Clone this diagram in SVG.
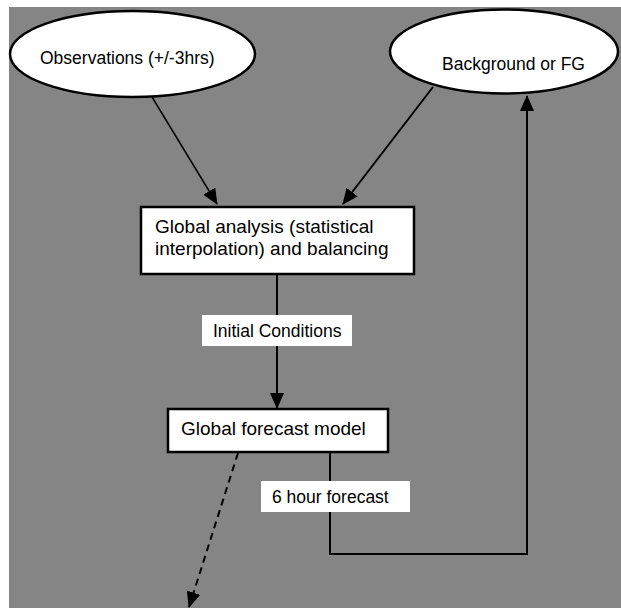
<svg xmlns="http://www.w3.org/2000/svg" width="621" height="608" viewBox="0 0 621 608">
<defs>
<style>
.node{fill:#fff;stroke:#000;stroke-width:2.5}
.lbl{fill:#fff;stroke:none}
.t{font-family:"Liberation Sans",Arial,sans-serif;fill:#000}
.c{fill:none;stroke:#000;stroke-width:2}
</style>
<marker id="ah" markerUnits="userSpaceOnUse" markerWidth="16" markerHeight="14" viewBox="0 0 16 14" refX="15" refY="7" orient="auto">
<path d="M0,0 L16,7 L0,14 z" fill="#000"/>
</marker>
</defs>
<rect x="0" y="0" width="621" height="608" fill="#fff"/>
<rect x="9" y="7" width="612" height="601" fill="#858585"/>
<g id="connectors">
<line class="c" x1="152" y1="97" x2="217" y2="204" style="stroke-width:1.5" marker-end="url(#ah)"/>
<line class="c" x1="433" y1="87" x2="343" y2="204" marker-end="url(#ah)"/>
<line class="c" x1="277" y1="274" x2="277" y2="408" marker-end="url(#ah)"/>
<polyline class="c" points="330,452 330,554 527,554 527,96" marker-end="url(#ah)"/>
<line class="c" x1="238" y1="453" x2="189" y2="607" stroke-dasharray="7,5" marker-end="url(#ah)"/>
</g>
<g id="obs">
<ellipse class="node" cx="132.5" cy="54" rx="122.5" ry="43"/>
<text class="t" x="40" y="64" font-size="17.5">Observations (+/-3hrs)</text>
</g>
<g id="bg">
<ellipse class="node" cx="504" cy="51.5" rx="114" ry="42"/>
<text class="t" x="442" y="70" font-size="17.5">Background or FG</text>
</g>
<g id="analysis">
<rect class="node" x="141" y="207" width="273" height="67"/>
<text class="t" x="155" y="233" font-size="19">Global analysis (statistical</text>
<text class="t" x="155" y="255" font-size="19">interpolation) and balancing</text>
</g>
<g id="ic">
<rect class="lbl" x="202" y="315" width="150" height="31"/>
<text class="t" x="213" y="337" font-size="17.5">Initial Conditions</text>
</g>
<g id="model">
<rect class="node" x="168" y="409" width="220" height="43"/>
<text class="t" x="181" y="435" font-size="19">Global forecast model</text>
</g>
<g id="fc6">
<rect class="lbl" x="261" y="481" width="149" height="31"/>
<text class="t" x="272" y="503" font-size="17.5">6 hour forecast</text>
</g>
</svg>
